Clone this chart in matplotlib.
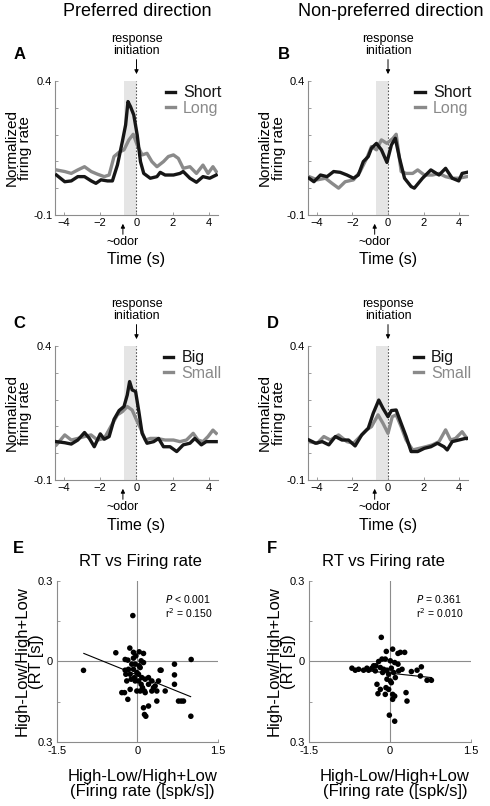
import matplotlib
matplotlib.use('Agg')
import matplotlib.pyplot as plt
import numpy as np

plt.rcParams['font.family'] = ['Liberation Sans', 'DejaVu Sans']

# ---- data ----
a_short_t = [-4.42, -3.96, -3.6, -3.24, -2.87, -2.5, -2.24, -1.96, -1.6, -1.33, -1.05, -0.78, -0.6, -0.47, -0.33,
             -0.15, 0.04, 0.22, 0.4, 0.76, 1.13, 1.31, 1.58, 2.04, 2.4, 2.58, 2.95, 3.31, 3.67, 4.04, 4.4]
a_short_y = [0.049, 0.024, 0.027, 0.043, 0.043, 0.027, 0.018, 0.031, 0.027, 0.027, 0.087, 0.174, 0.236, 0.323, 0.304,
             0.273, 0.198, 0.099, 0.055, 0.037, 0.043, 0.059, 0.049, 0.049, 0.055, 0.062, 0.037, 0.022, 0.043, 0.037, 0.049]
a_long_t = [-4.42, -3.96, -3.6, -3.24, -2.87, -2.5, -2.15, -1.78, -1.51, -1.24, -0.96, -0.69, -0.42, -0.18, 0.04,
            0.31, 0.58, 0.85, 1.13, 1.49, 1.76, 2.04, 2.31, 2.58, 2.95, 3.31, 3.67, 3.95, 4.22, 4.4]
a_long_y = [0.068, 0.062, 0.055, 0.068, 0.08, 0.062, 0.052, 0.043, 0.049, 0.118, 0.134, 0.143, 0.18, 0.201, 0.161,
            0.124, 0.13, 0.099, 0.08, 0.099, 0.118, 0.124, 0.111, 0.074, 0.08, 0.055, 0.086, 0.055, 0.08, 0.062]

b_short_t = [-4.44, -4.17, -3.8, -3.43, -3.06, -2.69, -2.31, -1.94, -1.67, -1.39, -1.11, -0.93, -0.65, -0.37, -0.06,
             0.19, 0.41, 0.65, 0.93, 1.3, 1.48, 1.94, 2.41, 2.87, 3.24, 3.61, 3.98, 4.17, 4.44]
b_short_y = [0.037, 0.024, 0.049, 0.043, 0.062, 0.059, 0.049, 0.037, 0.049, 0.099, 0.118, 0.149, 0.167, 0.143, 0.096,
             0.161, 0.186, 0.111, 0.037, 0.006, 0.0, 0.037, 0.068, 0.049, 0.074, 0.037, 0.027, 0.055, 0.059]
b_long_t = [-4.44, -3.98, -3.52, -3.15, -2.78, -2.41, -1.94, -1.57, -1.2, -0.93, -0.65, -0.37, -0.06, 0.28, 0.46,
            0.74, 1.02, 1.39, 1.67, 2.04, 2.5, 2.87, 3.24, 3.61, 3.98, 4.44]
b_long_y = [0.043, 0.031, 0.037, 0.018, 0.0, 0.024, 0.031, 0.062, 0.111, 0.155, 0.143, 0.18, 0.167, 0.186, 0.201,
            0.062, 0.055, 0.055, 0.068, 0.049, 0.049, 0.055, 0.043, 0.037, 0.037, 0.043]

c_big_t = [-4.42, -3.96, -3.6, -3.24, -2.87, -2.6, -2.33, -2.0, -1.78, -1.51, -1.24, -0.96, -0.69, -0.51, -0.38,
           -0.24, -0.05, 0.13, 0.31, 0.58, 0.95, 1.22, 1.49, 1.85, 2.22, 2.58, 2.95, 3.22, 3.58, 3.85, 4.4]
c_big_y = [0.043, 0.039, 0.034, 0.049, 0.077, 0.055, 0.024, 0.072, 0.052, 0.062, 0.126, 0.159, 0.174, 0.217, 0.267,
           0.236, 0.23, 0.155, 0.074, 0.037, 0.043, 0.055, 0.024, 0.024, 0.006, 0.031, 0.037, 0.055, 0.031, 0.043, 0.043]
c_small_t = [-4.42, -3.96, -3.6, -3.24, -2.87, -2.51, -2.15, -1.78, -1.42, -1.05, -0.78, -0.51, -0.24, 0.0, 0.22,
             0.49, 0.76, 1.13, 1.58, 2.04, 2.4, 2.76, 3.13, 3.4, 3.67, 3.95, 4.22, 4.4]
c_small_y = [0.031, 0.068, 0.049, 0.055, 0.062, 0.068, 0.049, 0.055, 0.099, 0.143, 0.155, 0.174, 0.161, 0.124, 0.093,
             0.049, 0.055, 0.055, 0.049, 0.049, 0.043, 0.049, 0.074, 0.049, 0.043, 0.062, 0.086, 0.074]

d_big_t = [-4.44, -4.07, -3.7, -3.33, -2.96, -2.59, -2.22, -1.85, -1.48, -1.11, -0.83, -0.52, -0.28, 0.0, 0.19,
           0.46, 0.74, 1.02, 1.3, 1.67, 2.04, 2.41, 2.78, 3.15, 3.33, 3.61, 3.98, 4.35, 4.45]
d_big_y = [0.049, 0.037, 0.043, 0.031, 0.062, 0.049, 0.049, 0.027, 0.068, 0.093, 0.149, 0.198, 0.167, 0.136, 0.159,
           0.161, 0.111, 0.062, 0.006, 0.006, 0.018, 0.024, 0.037, 0.024, 0.012, 0.043, 0.049, 0.055, 0.055]
d_small_t = [-4.44, -3.98, -3.61, -3.24, -2.78, -2.31, -1.94, -1.57, -1.2, -0.93, -0.56, -0.28, 0.0, 0.24, 0.46,
             0.74, 1.02, 1.39, 1.76, 2.13, 2.5, 2.87, 3.24, 3.52, 3.8, 4.17, 4.44]
d_small_y = [0.043, 0.037, 0.062, 0.049, 0.068, 0.043, 0.037, 0.062, 0.087, 0.099, 0.143, 0.111, 0.074, 0.136, 0.143,
             0.099, 0.049, 0.012, 0.018, 0.024, 0.031, 0.043, 0.087, 0.049, 0.055, 0.08, 0.055]

e_fr = [-0.087, -1.006, 1.0, 0.994, -0.404, -0.143, 0.031, 0.112, -0.23, -0.18, -0.075, 0.068, -0.043, -0.168,
        -0.137, -0.012, 0.05, 0.081, -0.043, -0.118, -0.2, 0.143, 0.267, 0.205, 0.093, -0.012, 0.143, 0.13, 0.298,
        0.36, 0.391, 0.422, 0.44, 0.689, 0.689, 0.689, 0.516, 0.36, 0.205, 0.112, 0.13, 0.155, -0.18, -0.292, -0.242,
        0.764, 0.814, 0.857, -0.23, -0.217, -0.075, 0.019, 0.019, -0.056, -0.137, 0.068, 0.205, 0.329, -0.075,
        -0.03, 0.112, 0.031, -0.106, 0.05, 0.267]
e_rt = [0.171, -0.033, 0.0075, -0.204, 0.0325, 0.05, 0.036, 0.03, 0.0075, 0.005, 0.0125, 0.0025, -0.01, -0.029,
        -0.0475, -0.041, -0.0225, -0.06, -0.0725, -0.066, -0.0725, -0.066, -0.0725, -0.085, -0.0975, -0.11, -0.116,
        -0.11, -0.0975, -0.11, -0.0725, -0.0325, -0.0325, -0.01, -0.05, -0.085, -0.11, -0.1475, -0.166, -0.1725,
        -0.1975, -0.204, -0.141, -0.116, -0.116, -0.1475, -0.1475, -0.1475, -0.0325, -0.0475, -0.029, -0.0475,
        -0.0725, -0.06, -0.104, -0.085, -0.06, -0.091, 0.034, 0.021, -0.004, -0.016, -0.01, -0.11, -0.11]
e_fit_x = [-1.0, 0.99]
e_fit_y = [0.030, -0.131]

f_fr = [-0.161, -0.068, 0.049, 0.148, 0.192, 0.272, -0.21, -0.148, -0.087, 0.006, 0.087, 0.148, -0.705, -0.581,
        -0.489, -0.396, -0.334, -0.272, -0.303, -0.179, -0.118, -0.056, -0.025, 0.025, 0.068, 0.161, 0.223, 0.396,
        0.501, 0.581, 0.563, 0.686, 0.767, -0.241, -0.179, -0.223, -0.087, -0.025, 0.049, 0.087, 0.025, -0.056,
        0.297, 0.315, -0.012, 0.087, -0.074, 0.006, 0.099, 0.049, -0.136, -0.26, -0.427, -0.643]
f_rt = [0.09, 0.0375, 0.046, 0.03, 0.034, 0.034, 0.0, 0.009, 0.009, 0.0025, -0.004, -0.01, -0.025, -0.029, -0.0325,
        -0.0325, -0.025, -0.035, -0.016, -0.0225, -0.029, -0.0325, -0.0475, -0.025, -0.041, -0.035, -0.029, -0.0375,
        -0.0325, -0.02, -0.054, -0.07, -0.07, -0.085, -0.104, -0.12, -0.1225, -0.104, -0.1225, -0.129, -0.079,
        -0.066, -0.116, -0.1475, -0.2, -0.2225, -0.0975, -0.0725, -0.06, -0.141, -0.041, -0.016, -0.025, -0.0325]
f_fit_x = [-0.73, 0.77]
f_fit_y = [-0.028, -0.060]

BLACK = '#161616'
GRAY = '#8a8a8a'
SPINE = '#8c8c8c'

fig = plt.figure(figsize=(4.9, 8.06), dpi=100)


def line_panel(rect, t1, y1, t2, y2, labels):
    ax = fig.add_axes(rect)
    ax.axvspan(-0.7, 0, color='#e5e5e5', lw=0, zorder=0)
    ax.axvline(0, color='#555555', lw=0.8, ls=(0, (1.5, 1.5)), zorder=1)
    ax.plot(t2, y2, color=GRAY, lw=2.4, label=labels[1], zorder=2)
    ax.plot(t1, y1, color=BLACK, lw=2.4, label=labels[0], zorder=3)
    ax.set_xlim(-4.5, 4.5)
    ax.set_ylim(-0.1, 0.4)
    ax.set_xticks([-4, -2, 0, 2, 4])
    ax.set_yticks([-0.1, 0, 0.1, 0.2, 0.3, 0.4])
    ax.set_yticklabels(['-0.1', '', '', '', '', '0.4'])
    for s in ['top', 'right']:
        ax.spines[s].set_visible(False)
    for s in ['left', 'bottom']:
        ax.spines[s].set_color(SPINE)
        ax.spines[s].set_linewidth(0.8)
    ax.tick_params(direction='in', length=2, width=0.6, color=SPINE, labelsize=8, pad=2)
    h, l = ax.get_legend_handles_labels()
    ax.legend(h[::-1], l[::-1], loc='upper right', bbox_to_anchor=(1.08, 1.04), frameon=False,
              fontsize=11.5, handlelength=0.6, handletextpad=0.5, labelspacing=0.05,
              labelcolor='linecolor', borderaxespad=0.2)
    ax.annotate('', xy=(0, 1.03), xycoords=('data', 'axes fraction'), xytext=(0, 1.18),
                textcoords=('data', 'axes fraction'),
                arrowprops=dict(arrowstyle='-|>', color='black', lw=0.7, mutation_scale=6))
    ax.text(0, 1.27, 'response\ninitiation', transform=ax.get_xaxis_transform(), ha='center', va='center',
            fontsize=9, linespacing=1.0)
    ax.annotate('', xy=(-0.75, -0.045), xycoords=('data', 'axes fraction'), xytext=(-0.75, -0.165),
                textcoords=('data', 'axes fraction'),
                arrowprops=dict(arrowstyle='-|>', color='black', lw=0.7, mutation_scale=6))
    ax.text(-0.75, -0.205, '~odor', transform=ax.get_xaxis_transform(), ha='center', va='center', fontsize=9)
    ax.set_xlabel('Time (s)', fontsize=11.5)
    ax.xaxis.set_label_coords(0.5, -0.28)
    ax.set_ylabel('Normalized\nfiring rate', fontsize=11, linespacing=0.95)
    ax.yaxis.set_label_coords(-0.14, 0.5)
    return ax


def scatter_panel(rect, fr, rt, fx, fy, stats, sx, title_x):
    ax = fig.add_axes(rect)
    ax.axhline(0, color=SPINE, lw=0.8, zorder=1)
    ax.axvline(0, color=SPINE, lw=0.8, zorder=1)
    ax.plot(fx, fy, color='black', lw=0.8, zorder=2)
    ax.scatter(fr, rt, s=16, color='black', edgecolors='none', zorder=3)
    ax.set_xlim(-1.5, 1.5)
    ax.set_ylim(-0.3, 0.3)
    ax.set_xticks([-1.5, 0, 1.5])
    ax.set_xticklabels(['-1.5', '0', '1.5'])
    ax.set_yticks([-0.3, -0.15, 0, 0.15, 0.3])
    ax.set_yticklabels(['0.3', '', '0', '', '0.3'])
    for s in ['top', 'right']:
        ax.spines[s].set_visible(False)
    for s in ['left', 'bottom']:
        ax.spines[s].set_color(SPINE)
        ax.spines[s].set_linewidth(0.8)
    ax.tick_params(direction='in', length=2, width=0.6, color=SPINE, labelsize=8, pad=3)
    ax.text(sx, 0.234, stats[0], fontsize=7.5, va='center', ha='left')
    ax.text(sx, 0.18, stats[1], fontsize=7.5, va='center', ha='left')
    ax.text(title_x, 1.12, 'RT vs Firing rate', transform=ax.transAxes, ha='center', va='center', fontsize=12)
    ax.set_xlabel('High-Low/High+Low\n(Firing rate ([spk/s])', fontsize=12, linespacing=0.95)
    ax.xaxis.set_label_coords(0.53, -0.17)
    ax.set_ylabel('High-Low/High+Low\n(RT [s])', fontsize=12, linespacing=0.95)
    ax.yaxis.set_label_coords(-0.08, 0.5)
    return ax


line_panel([0.1122, 0.7333, 0.3327, 0.1663], a_short_t, a_short_y, a_long_t, a_long_y, ['Short', 'Long'])
line_panel([0.6286, 0.7333, 0.3265, 0.1663], b_short_t, b_short_y, b_long_t, b_long_y, ['Short', 'Long'])
line_panel([0.1122, 0.4045, 0.3327, 0.1663], c_big_t, c_big_y, c_small_t, c_small_y, ['Big', 'Small'])
line_panel([0.6286, 0.4045, 0.3265, 0.1663], d_big_t, d_big_y, d_small_t, d_small_y, ['Big', 'Small'])

scatter_panel([0.1163, 0.0794, 0.3286, 0.1998], e_fr, e_rt, e_fit_x, e_fit_y,
              [r'$\it{P}$ < 0.001', r'r$^2$ = 0.150'], 0.52, 0.52)
scatter_panel([0.6306, 0.0794, 0.3306, 0.1998], f_fr, f_rt, f_fit_x, f_fit_y,
              [r'$\it{P}$ = 0.361', r'r$^2$ = 0.010'], 0.49, 0.46)

fig.text(0.28, 0.986, 'Preferred direction', ha='center', va='center', fontsize=13)
fig.text(0.798, 0.986, 'Non-preferred direction', ha='center', va='center', fontsize=13)

for letter, x, y in [('A', 0.027, 0.932), ('B', 0.567, 0.932), ('C', 0.027, 0.599),
                     ('D', 0.545, 0.599), ('E', 0.027, 0.319), ('F', 0.545, 0.319)]:
    fig.text(x, y, letter, ha='left', va='center', fontsize=12, fontweight='bold')

fig.savefig('out.png', dpi=100)
